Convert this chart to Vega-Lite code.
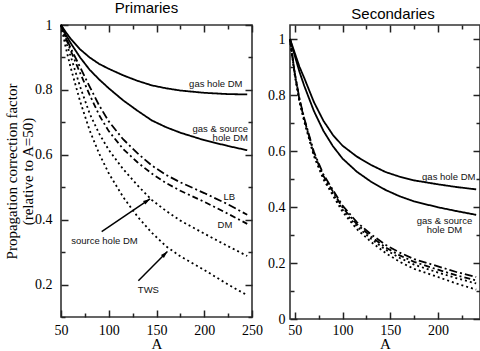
{
  "$schema": "https://vega.github.io/schema/vega-lite/v6.json",
  "padding": {"left": 3, "top": 0, "right": 0, "bottom": 0},
  "background": "white",
  "spacing": 38,
  "bounds": "flush",
  "config": {
    "view": {"stroke": "#333", "strokeWidth": 1.6},
    "axis": {"labelFont": "Liberation Serif", "labelFontSize": 14, "labelColor": "black", "titleFont": "Liberation Serif", "titleFontSize": 15, "titleFontWeight": "normal", "titleColor": "black", "grid": false, "domain": false, "ticks": true, "labelFlush": false, "labelOverlap": false},
    "title": {"font": "Liberation Sans", "fontSize": 15, "fontWeight": "normal", "color": "black"},
    "text": {"font": "Liberation Sans", "fontSize": 9.5, "color": "#111"}
  },
  "datasets": {
    "prim": [
      {"series": "gas hole DM", "A": 50, "y": 1}, {"series": "gas hole DM", "A": 55, "y": 0.978}, {"series": "gas hole DM", "A": 60, "y": 0.958}, {"series": "gas hole DM", "A": 70, "y": 0.925}, {"series": "gas hole DM", "A": 80, "y": 0.9}, {"series": "gas hole DM", "A": 90, "y": 0.88}, {"series": "gas hole DM", "A": 100, "y": 0.865}, {"series": "gas hole DM", "A": 115, "y": 0.845}, {"series": "gas hole DM", "A": 130, "y": 0.828}, {"series": "gas hole DM", "A": 145, "y": 0.814}, {"series": "gas hole DM", "A": 160, "y": 0.805}, {"series": "gas hole DM", "A": 175, "y": 0.798}, {"series": "gas hole DM", "A": 200, "y": 0.791}, {"series": "gas hole DM", "A": 225, "y": 0.787}, {"series": "gas hole DM", "A": 245, "y": 0.786},
      {"series": "gas & source hole DM", "A": 50, "y": 1}, {"series": "gas & source hole DM", "A": 55, "y": 0.97}, {"series": "gas & source hole DM", "A": 60, "y": 0.945}, {"series": "gas & source hole DM", "A": 70, "y": 0.9}, {"series": "gas & source hole DM", "A": 80, "y": 0.862}, {"series": "gas & source hole DM", "A": 90, "y": 0.832}, {"series": "gas & source hole DM", "A": 100, "y": 0.805}, {"series": "gas & source hole DM", "A": 115, "y": 0.768}, {"series": "gas & source hole DM", "A": 130, "y": 0.736}, {"series": "gas & source hole DM", "A": 145, "y": 0.706}, {"series": "gas & source hole DM", "A": 160, "y": 0.685}, {"series": "gas & source hole DM", "A": 175, "y": 0.668}, {"series": "gas & source hole DM", "A": 200, "y": 0.645}, {"series": "gas & source hole DM", "A": 225, "y": 0.627}, {"series": "gas & source hole DM", "A": 245, "y": 0.614},
      {"series": "LB", "A": 50, "y": 1}, {"series": "LB", "A": 55, "y": 0.963}, {"series": "LB", "A": 60, "y": 0.93}, {"series": "LB", "A": 70, "y": 0.87}, {"series": "LB", "A": 80, "y": 0.81}, {"series": "LB", "A": 90, "y": 0.752}, {"series": "LB", "A": 100, "y": 0.703}, {"series": "LB", "A": 115, "y": 0.648}, {"series": "LB", "A": 130, "y": 0.605}, {"series": "LB", "A": 145, "y": 0.567}, {"series": "LB", "A": 160, "y": 0.538}, {"series": "LB", "A": 175, "y": 0.515}, {"series": "LB", "A": 200, "y": 0.482}, {"series": "LB", "A": 225, "y": 0.447}, {"series": "LB", "A": 245, "y": 0.415},
      {"series": "DM", "A": 50, "y": 1}, {"series": "DM", "A": 55, "y": 0.96}, {"series": "DM", "A": 60, "y": 0.922}, {"series": "DM", "A": 70, "y": 0.852}, {"series": "DM", "A": 80, "y": 0.785}, {"series": "DM", "A": 90, "y": 0.722}, {"series": "DM", "A": 100, "y": 0.673}, {"series": "DM", "A": 115, "y": 0.618}, {"series": "DM", "A": 130, "y": 0.577}, {"series": "DM", "A": 145, "y": 0.542}, {"series": "DM", "A": 160, "y": 0.513}, {"series": "DM", "A": 175, "y": 0.489}, {"series": "DM", "A": 200, "y": 0.455}, {"series": "DM", "A": 225, "y": 0.418}, {"series": "DM", "A": 245, "y": 0.387},
      {"series": "source hole DM", "A": 50, "y": 1}, {"series": "source hole DM", "A": 55, "y": 0.95}, {"series": "source hole DM", "A": 60, "y": 0.905}, {"series": "source hole DM", "A": 70, "y": 0.81}, {"series": "source hole DM", "A": 80, "y": 0.727}, {"series": "source hole DM", "A": 90, "y": 0.665}, {"series": "source hole DM", "A": 100, "y": 0.615}, {"series": "source hole DM", "A": 115, "y": 0.556}, {"series": "source hole DM", "A": 130, "y": 0.506}, {"series": "source hole DM", "A": 145, "y": 0.461}, {"series": "source hole DM", "A": 160, "y": 0.427}, {"series": "source hole DM", "A": 175, "y": 0.397}, {"series": "source hole DM", "A": 200, "y": 0.357}, {"series": "source hole DM", "A": 225, "y": 0.318}, {"series": "source hole DM", "A": 245, "y": 0.288},
      {"series": "TWS", "A": 50, "y": 1}, {"series": "TWS", "A": 55, "y": 0.93}, {"series": "TWS", "A": 60, "y": 0.87}, {"series": "TWS", "A": 70, "y": 0.765}, {"series": "TWS", "A": 80, "y": 0.675}, {"series": "TWS", "A": 90, "y": 0.603}, {"series": "TWS", "A": 100, "y": 0.543}, {"series": "TWS", "A": 115, "y": 0.47}, {"series": "TWS", "A": 130, "y": 0.41}, {"series": "TWS", "A": 145, "y": 0.36}, {"series": "TWS", "A": 160, "y": 0.318}, {"series": "TWS", "A": 175, "y": 0.287}, {"series": "TWS", "A": 200, "y": 0.245}, {"series": "TWS", "A": 225, "y": 0.2}, {"series": "TWS", "A": 245, "y": 0.167}
    ],
    "sec": [
      {"series": "gas hole DM", "A": 45, "y": 1}, {"series": "gas hole DM", "A": 50, "y": 0.95}, {"series": "gas hole DM", "A": 55, "y": 0.9}, {"series": "gas hole DM", "A": 60, "y": 0.86}, {"series": "gas hole DM", "A": 70, "y": 0.775}, {"series": "gas hole DM", "A": 80, "y": 0.708}, {"series": "gas hole DM", "A": 90, "y": 0.657}, {"series": "gas hole DM", "A": 100, "y": 0.619}, {"series": "gas hole DM", "A": 115, "y": 0.58}, {"series": "gas hole DM", "A": 130, "y": 0.55}, {"series": "gas hole DM", "A": 145, "y": 0.525}, {"series": "gas hole DM", "A": 160, "y": 0.508}, {"series": "gas hole DM", "A": 175, "y": 0.495}, {"series": "gas hole DM", "A": 200, "y": 0.481}, {"series": "gas hole DM", "A": 220, "y": 0.471}, {"series": "gas hole DM", "A": 240, "y": 0.463},
      {"series": "gas & source hole DM", "A": 45, "y": 1}, {"series": "gas & source hole DM", "A": 50, "y": 0.94}, {"series": "gas & source hole DM", "A": 55, "y": 0.882}, {"series": "gas & source hole DM", "A": 60, "y": 0.832}, {"series": "gas & source hole DM", "A": 70, "y": 0.743}, {"series": "gas & source hole DM", "A": 80, "y": 0.672}, {"series": "gas & source hole DM", "A": 90, "y": 0.617}, {"series": "gas & source hole DM", "A": 100, "y": 0.573}, {"series": "gas & source hole DM", "A": 115, "y": 0.526}, {"series": "gas & source hole DM", "A": 130, "y": 0.49}, {"series": "gas & source hole DM", "A": 145, "y": 0.461}, {"series": "gas & source hole DM", "A": 160, "y": 0.438}, {"series": "gas & source hole DM", "A": 175, "y": 0.42}, {"series": "gas & source hole DM", "A": 200, "y": 0.399}, {"series": "gas & source hole DM", "A": 220, "y": 0.385}, {"series": "gas & source hole DM", "A": 240, "y": 0.372},
      {"series": "LB", "A": 45, "y": 1}, {"series": "LB", "A": 50, "y": 0.879}, {"series": "LB", "A": 55, "y": 0.785}, {"series": "LB", "A": 60, "y": 0.716}, {"series": "LB", "A": 70, "y": 0.597}, {"series": "LB", "A": 80, "y": 0.516}, {"series": "LB", "A": 90, "y": 0.461}, {"series": "LB", "A": 100, "y": 0.405}, {"series": "LB", "A": 115, "y": 0.346}, {"series": "LB", "A": 130, "y": 0.302}, {"series": "LB", "A": 145, "y": 0.265}, {"series": "LB", "A": 160, "y": 0.237}, {"series": "LB", "A": 175, "y": 0.214}, {"series": "LB", "A": 200, "y": 0.188}, {"series": "LB", "A": 220, "y": 0.167}, {"series": "LB", "A": 240, "y": 0.15},
      {"series": "DM", "A": 45, "y": 1}, {"series": "DM", "A": 50, "y": 0.876}, {"series": "DM", "A": 55, "y": 0.782}, {"series": "DM", "A": 60, "y": 0.712}, {"series": "DM", "A": 70, "y": 0.592}, {"series": "DM", "A": 80, "y": 0.511}, {"series": "DM", "A": 90, "y": 0.455}, {"series": "DM", "A": 100, "y": 0.398}, {"series": "DM", "A": 115, "y": 0.339}, {"series": "DM", "A": 130, "y": 0.294}, {"series": "DM", "A": 145, "y": 0.256}, {"series": "DM", "A": 160, "y": 0.227}, {"series": "DM", "A": 175, "y": 0.204}, {"series": "DM", "A": 200, "y": 0.176}, {"series": "DM", "A": 220, "y": 0.155}, {"series": "DM", "A": 240, "y": 0.138},
      {"series": "source hole DM", "A": 45, "y": 1}, {"series": "source hole DM", "A": 50, "y": 0.874}, {"series": "source hole DM", "A": 55, "y": 0.778}, {"series": "source hole DM", "A": 60, "y": 0.708}, {"series": "source hole DM", "A": 70, "y": 0.587}, {"series": "source hole DM", "A": 80, "y": 0.505}, {"series": "source hole DM", "A": 90, "y": 0.448}, {"series": "source hole DM", "A": 100, "y": 0.391}, {"series": "source hole DM", "A": 115, "y": 0.331}, {"series": "source hole DM", "A": 130, "y": 0.286}, {"series": "source hole DM", "A": 145, "y": 0.248}, {"series": "source hole DM", "A": 160, "y": 0.218}, {"series": "source hole DM", "A": 175, "y": 0.194}, {"series": "source hole DM", "A": 200, "y": 0.166}, {"series": "source hole DM", "A": 220, "y": 0.145}, {"series": "source hole DM", "A": 240, "y": 0.127},
      {"series": "TWS", "A": 45, "y": 1}, {"series": "TWS", "A": 50, "y": 0.871}, {"series": "TWS", "A": 55, "y": 0.775}, {"series": "TWS", "A": 60, "y": 0.704}, {"series": "TWS", "A": 70, "y": 0.582}, {"series": "TWS", "A": 80, "y": 0.499}, {"series": "TWS", "A": 90, "y": 0.441}, {"series": "TWS", "A": 100, "y": 0.383}, {"series": "TWS", "A": 115, "y": 0.321}, {"series": "TWS", "A": 130, "y": 0.275}, {"series": "TWS", "A": 145, "y": 0.236}, {"series": "TWS", "A": 160, "y": 0.204}, {"series": "TWS", "A": 175, "y": 0.179}, {"series": "TWS", "A": 200, "y": 0.15}, {"series": "TWS", "A": 220, "y": 0.126}, {"series": "TWS", "A": 240, "y": 0.105}
    ]
  },
  "hconcat": [
    {
      "width": 191,
      "height": 292,
      "title": {"text": "Primaries", "dx": -10, "offset": 2},
      "resolve": {"axis": {"x": "independent", "y": "independent"}},
      "layer": [
        {
          "data": {"name": "prim"},
          "mark": {"type": "line", "color": "black", "strokeWidth": 1.8},
          "encoding": {
            "x": {"field": "A", "type": "quantitative", "scale": {"domain": [50, 250], "nice": false, "zero": false},
              "axis": {"values": [50, 100, 150, 200, 250], "format": "d", "tickSize": -7, "tickColor": "#222", "tickWidth": 1.5, "labelPadding": 13.5, "title": "A", "titlePadding": -1}},
            "y": {"field": "y", "type": "quantitative", "scale": {"domain": [0.1, 1], "nice": false, "zero": false},
              "axis": {"values": [0.2, 0.4, 0.6, 0.8, 1], "format": "~g", "tickSize": 7, "offset": -7, "tickColor": "#222", "tickWidth": 1.5, "labelPadding": 9, "title": ["Propagation correction factor", "(relative to A=50)"], "titleFontSize": 15, "titleLineHeight": 16, "titlePadding": -1}},
            "strokeDash": {"field": "series", "type": "nominal", "legend": null,
              "scale": {"domain": ["gas hole DM", "gas & source hole DM", "LB", "DM", "source hole DM", "TWS"], "range": [[1, 0], [1, 0], [8, 3, 2, 3], [6, 3, 2, 3], [2, 3], [2, 3]]}}
          }
        },
        {
          "data": {"name": "prim"},
          "mark": {"type": "point", "opacity": 0, "size": 1},
          "encoding": {
            "x": {"field": "A", "type": "quantitative", "scale": {"domain": [50, 250], "nice": false, "zero": false},
              "axis": {"orient": "bottom", "values": [75, 125, 175, 225], "labels": false, "title": null, "tickSize": -4, "tickColor": "#222", "tickWidth": 1.5}},
            "y": {"field": "y", "type": "quantitative", "scale": {"domain": [0.1, 1], "nice": false, "zero": false},
              "axis": {"orient": "left", "values": [0.1, 0.3, 0.5, 0.7, 0.9], "labels": false, "title": null, "tickSize": 4, "offset": -4, "tickColor": "#222", "tickWidth": 1.5}}
          }
        },
        {
          "data": {"name": "prim"},
          "mark": {"type": "point", "opacity": 0, "size": 1},
          "encoding": {
            "x": {"field": "A", "type": "quantitative", "scale": {"domain": [50, 250], "nice": false, "zero": false},
              "axis": {"orient": "top", "values": [50, 100, 150, 200, 250], "labels": false, "title": null, "tickSize": 7, "offset": -7, "tickColor": "#222", "tickWidth": 1.5}},
            "y": {"field": "y", "type": "quantitative", "scale": {"domain": [0.1, 1], "nice": false, "zero": false},
              "axis": {"orient": "right", "values": [0.2, 0.4, 0.6, 0.8, 1], "labels": false, "title": null, "tickSize": -7, "tickColor": "#222", "tickWidth": 1.5}}
          }
        },
        {
          "data": {"name": "prim"},
          "mark": {"type": "point", "opacity": 0, "size": 1},
          "encoding": {
            "x": {"field": "A", "type": "quantitative", "scale": {"domain": [50, 250], "nice": false, "zero": false},
              "axis": {"orient": "top", "values": [75, 125, 175, 225], "labels": false, "title": null, "tickSize": -4, "tickColor": "#222", "tickWidth": 1.5}},
            "y": {"field": "y", "type": "quantitative", "scale": {"domain": [0.1, 1], "nice": false, "zero": false},
              "axis": {"orient": "right", "values": [0.1, 0.3, 0.5, 0.7, 0.9], "labels": false, "title": null, "tickSize": -4, "tickColor": "#222", "tickWidth": 1.5}}
          }
        },
        {
          "data": {"values": [{"label": "gas hole DM", "A": 240, "y": 0.818}]},
          "mark": {"type": "text", "align": "right", "baseline": "middle"},
          "encoding": {
            "x": {"field": "A", "type": "quantitative", "scale": {"domain": [50, 250], "nice": false, "zero": false}, "axis": null},
            "y": {"field": "y", "type": "quantitative", "scale": {"domain": [0.1, 1], "nice": false, "zero": false}, "axis": null},
            "text": {"field": "label"}
          }
        },
        {
          "data": {"values": [{"label": "gas & source\nhole DM", "A": 245.8, "y": 0.6955}]},
          "mark": {"type": "text", "align": "right", "baseline": "top", "lineBreak": "\n", "lineHeight": 9.4},
          "encoding": {
            "x": {"field": "A", "type": "quantitative", "scale": {"domain": [50, 250], "nice": false, "zero": false}, "axis": null},
            "y": {"field": "y", "type": "quantitative", "scale": {"domain": [0.1, 1], "nice": false, "zero": false}, "axis": null},
            "text": {"field": "label"}
          }
        },
        {
          "data": {"values": [{"label": "LB", "A": 226.3, "y": 0.471}, {"label": "DM", "A": 221.7, "y": 0.384}, {"label": "TWS", "A": 141.5, "y": 0.184}, {"label": "source hole DM", "A": 95.5, "y": 0.335}]},
          "mark": {"type": "text", "align": "center", "baseline": "middle"},
          "encoding": {
            "x": {"field": "A", "type": "quantitative", "scale": {"domain": [50, 250], "nice": false, "zero": false}, "axis": null},
            "y": {"field": "y", "type": "quantitative", "scale": {"domain": [0.1, 1], "nice": false, "zero": false}, "axis": null},
            "text": {"field": "label"}
          }
        },
        {
          "data": {"values": [{"A": 92.6, "y": 0.363, "A2": 143.2, "y2": 0.464}, {"A": 131, "y": 0.212, "A2": 161.4, "y2": 0.302}]},
          "mark": {"type": "rule", "color": "black", "strokeWidth": 1.5},
          "encoding": {
            "x": {"field": "A", "type": "quantitative", "scale": {"domain": [50, 250], "nice": false, "zero": false}, "axis": null},
            "y": {"field": "y", "type": "quantitative", "scale": {"domain": [0.1, 1], "nice": false, "zero": false}, "axis": null},
            "x2": {"field": "A2"},
            "y2": {"field": "y2"}
          }
        },
        {
          "data": {"values": [{"A": 143.2, "y": 0.464}]},
          "mark": {"type": "point", "shape": "M0,0L-0.3,1L0.3,1Z", "filled": true, "color": "black", "opacity": 1, "size": 196, "angle": 56},
          "encoding": {
            "x": {"field": "A", "type": "quantitative", "scale": {"domain": [50, 250], "nice": false, "zero": false}, "axis": null},
            "y": {"field": "y", "type": "quantitative", "scale": {"domain": [0.1, 1], "nice": false, "zero": false}, "axis": null}
          }
        },
        {
          "data": {"values": [{"A": 161.4, "y": 0.302}]},
          "mark": {"type": "point", "shape": "M0,0L-0.3,1L0.3,1Z", "filled": true, "color": "black", "opacity": 1, "size": 196, "angle": 45},
          "encoding": {
            "x": {"field": "A", "type": "quantitative", "scale": {"domain": [50, 250], "nice": false, "zero": false}, "axis": null},
            "y": {"field": "y", "type": "quantitative", "scale": {"domain": [0.1, 1], "nice": false, "zero": false}, "axis": null}
          }
        }
      ]
    },
    {
      "width": 190,
      "height": 294,
      "title": {"text": "Secondaries", "dx": 8, "offset": 2},
      "resolve": {"axis": {"x": "independent", "y": "independent"}},
      "layer": [
        {
          "data": {"name": "sec"},
          "mark": {"type": "line", "color": "black", "strokeWidth": 1.8},
          "encoding": {
            "x": {"field": "A", "type": "quantitative", "scale": {"domain": [45, 244], "nice": false, "zero": false},
              "axis": {"values": [50, 100, 150, 200], "format": "d", "tickSize": -7, "tickColor": "#222", "tickWidth": 1.5, "labelPadding": 11, "title": "A", "titlePadding": -1}},
            "y": {"field": "y", "type": "quantitative", "scale": {"domain": [0, 1.05], "nice": false, "zero": false},
              "axis": {"values": [0, 0.2, 0.4, 0.6, 0.8, 1], "format": "~g", "tickSize": 7, "offset": -7, "tickColor": "#222", "tickWidth": 1.5, "labelPadding": 5, "title": null}},
            "strokeDash": {"field": "series", "type": "nominal", "legend": null,
              "scale": {"domain": ["gas hole DM", "gas & source hole DM", "LB", "DM", "source hole DM", "TWS"], "range": [[1, 0], [1, 0], [8, 3, 2, 3], [6, 3, 2, 3], [2, 3], [2, 3]]}}
          }
        },
        {
          "data": {"name": "sec"},
          "mark": {"type": "point", "opacity": 0, "size": 1},
          "encoding": {
            "x": {"field": "A", "type": "quantitative", "scale": {"domain": [45, 244], "nice": false, "zero": false},
              "axis": {"orient": "bottom", "values": [75, 125, 175, 225], "labels": false, "title": null, "tickSize": -4, "tickColor": "#222", "tickWidth": 1.5}},
            "y": {"field": "y", "type": "quantitative", "scale": {"domain": [0, 1.05], "nice": false, "zero": false},
              "axis": {"orient": "left", "values": [0.1, 0.3, 0.5, 0.7, 0.9], "labels": false, "title": null, "tickSize": 4, "offset": -4, "tickColor": "#222", "tickWidth": 1.5}}
          }
        },
        {
          "data": {"name": "sec"},
          "mark": {"type": "point", "opacity": 0, "size": 1},
          "encoding": {
            "x": {"field": "A", "type": "quantitative", "scale": {"domain": [45, 244], "nice": false, "zero": false},
              "axis": {"orient": "top", "values": [50, 100, 150, 200], "labels": false, "title": null, "tickSize": 7, "offset": -7, "tickColor": "#222", "tickWidth": 1.5}},
            "y": {"field": "y", "type": "quantitative", "scale": {"domain": [0, 1.05], "nice": false, "zero": false},
              "axis": {"orient": "right", "values": [0, 0.2, 0.4, 0.6, 0.8, 1], "labels": false, "title": null, "tickSize": -7, "tickColor": "#222", "tickWidth": 1.5}}
          }
        },
        {
          "data": {"name": "sec"},
          "mark": {"type": "point", "opacity": 0, "size": 1},
          "encoding": {
            "x": {"field": "A", "type": "quantitative", "scale": {"domain": [45, 244], "nice": false, "zero": false},
              "axis": {"orient": "top", "values": [75, 125, 175, 225], "labels": false, "title": null, "tickSize": -4, "tickColor": "#222", "tickWidth": 1.5}},
            "y": {"field": "y", "type": "quantitative", "scale": {"domain": [0, 1.05], "nice": false, "zero": false},
              "axis": {"orient": "right", "values": [0.1, 0.3, 0.5, 0.7, 0.9], "labels": false, "title": null, "tickSize": -4, "tickColor": "#222", "tickWidth": 1.5}}
          }
        },
        {
          "data": {"values": [{"label": "gas hole DM", "A": 239.2, "y": 0.508}]},
          "mark": {"type": "text", "align": "right", "baseline": "middle"},
          "encoding": {
            "x": {"field": "A", "type": "quantitative", "scale": {"domain": [45, 244], "nice": false, "zero": false}, "axis": null},
            "y": {"field": "y", "type": "quantitative", "scale": {"domain": [0, 1.05], "nice": false, "zero": false}, "axis": null},
            "text": {"field": "label"}
          }
        },
        {
          "data": {"values": [{"label": "gas & source\nhole DM", "A": 206.8, "y": 0.369}]},
          "mark": {"type": "text", "align": "center", "baseline": "top", "lineBreak": "\n", "lineHeight": 9.4},
          "encoding": {
            "x": {"field": "A", "type": "quantitative", "scale": {"domain": [45, 244], "nice": false, "zero": false}, "axis": null},
            "y": {"field": "y", "type": "quantitative", "scale": {"domain": [0, 1.05], "nice": false, "zero": false}, "axis": null},
            "text": {"field": "label"}
          }
        }
      ]
    }
  ]
}
